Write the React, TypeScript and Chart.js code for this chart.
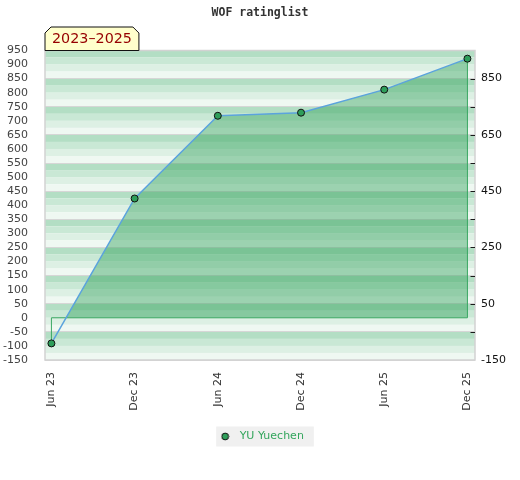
import React, { useEffect, useRef } from 'react';
import Chart from 'chart.js/auto';

const categories = ['Jun 23', 'Dec 23', 'Jun 24', 'Dec 24', 'Jun 25', 'Dec 25'];
const ratings = [-91, 424, 718, 729, 811, 921];
const seriesName = 'YU Yuechen';
const chartTitle = 'WOF ratinglist';
const periodLabel = '2023–2025';
const yMin = -150;
const yMax = 950;
const leftStep = 50;
const rightTickValues = [-150, -50, 50, 150, 250, 350, 450, 550, 650, 750, 850, 950];
const rightLabelValues = [-150, 50, 250, 450, 650, 850];
const stripeColors = ['#b3dec4', '#c9e8d5', '#ddf0e4', '#eff8f2'];
const stripeSize = 25;

const FONT = 'DejaVu Sans';

function makeMarker(): HTMLCanvasElement {
  const c = document.createElement('canvas');
  c.width = 9;
  c.height = 9;
  const g = c.getContext('2d');
  if (g) {
    g.beginPath();
    g.arc(4.5, 4.5, 3.4, 0, Math.PI * 2);
    g.fillStyle = '#2e9e5a';
    g.fill();
    g.lineWidth = 1;
    g.strokeStyle = '#111';
    g.stroke();
  }
  return c;
}

const decorPlugin = {
  id: 'decor',
  beforeDraw(chart: any) {
    const { ctx, chartArea: a, scales } = chart;
    const y = scales.y;
    ctx.save();
    let i = 0;
    for (let v = yMax; v > yMin; v -= stripeSize, i++) {
      const top = y.getPixelForValue(v);
      const bot = y.getPixelForValue(v - stripeSize);
      ctx.fillStyle = stripeColors[i % stripeColors.length];
      ctx.fillRect(a.left, top, a.right - a.left, bot - top);
    }
    const lg = chart.legend;
    if (lg && lg.legendHitBoxes && lg.legendHitBoxes.length) {
      const hb = lg.legendHitBoxes[0];
      ctx.fillStyle = '#f0f0f0';
      ctx.fillRect(hb.left, hb.top + hb.height / 2 - 10, hb.width + 10, 20);
    }
    ctx.restore();
  },
  beforeDatasetsDraw(chart: any) {
    const { ctx, chartArea: a, scales } = chart;
    ctx.save();
    ctx.strokeStyle = '#d2d2d2';
    ctx.lineWidth = 1.5;
    ctx.strokeRect(a.left, a.top, a.right - a.left, a.bottom - a.top);
    ctx.strokeStyle = '#1a1a1a';
    ctx.lineWidth = 1;
    const y2 = scales.y2;
    rightTickValues.forEach((v) => {
      const py = Math.round(y2.getPixelForValue(v)) + 0.5;
      if (v === yMin || v === yMax) return;
      ctx.beginPath();
      ctx.moveTo(a.right - 4.5, py);
      ctx.lineTo(a.right, py);
      ctx.stroke();
    });
    ctx.restore();
  },
  afterDraw(chart: any) {
    const { ctx, chartArea: a } = chart;
    ctx.save();
    ctx.font = `14.3px "${FONT}"`;
    const tw = ctx.measureText(periodLabel).width;
    const x0 = a.left;
    const x1 = x0 + tw + 14;
    const yb = a.top;
    const yt = yb - 23.5;
    const c = 6;
    ctx.beginPath();
    ctx.moveTo(x0, yb);
    ctx.lineTo(x0, yt + c);
    ctx.lineTo(x0 + c, yt);
    ctx.lineTo(x1 - c, yt);
    ctx.lineTo(x1, yt + c);
    ctx.lineTo(x1, yb);
    ctx.closePath();
    ctx.fillStyle = '#ffffcc';
    ctx.fill();
    ctx.strokeStyle = '#111';
    ctx.lineWidth = 1;
    ctx.stroke();
    ctx.fillStyle = '#960000';
    ctx.textBaseline = 'middle';
    ctx.textAlign = 'left';
    ctx.fillText(periodLabel, x0 + 7, yt + 12.5);
    ctx.restore();
  },
};

export default function App() {
  const ref = useRef<HTMLCanvasElement | null>(null);

  useEffect(() => {
    if (!ref.current) return;
    const last = ratings.length - 1;
    const tickFont = { family: FONT, size: 11 };
    const marker = makeMarker();
    const chart = new Chart(ref.current, {
      type: 'line',
      data: {
        datasets: [
          {
            label: seriesName,
            data: ratings.map((v, i) => ({ x: i, y: v })),
            borderColor: '#5ba3dd',
            borderWidth: 1.5,
            backgroundColor: 'rgba(46,160,87,0.43)',
            fill: { target: 'origin', above: 'rgba(46,160,87,0.43)', below: 'rgba(0,0,0,0)' },
            pointRadius: 3.5,
            pointBackgroundColor: '#2e9e5a',
            pointBorderColor: '#111',
            pointBorderWidth: 1,
            tension: 0,
            order: 1,
          },
          {
            label: 'outline',
            data: [
              { x: 0, y: ratings[0] },
              { x: 0, y: 0 },
              { x: last, y: 0 },
              { x: last, y: ratings[last] },
            ],
            borderColor: '#3aa862',
            borderWidth: 1,
            pointRadius: 0,
            fill: false,
            tension: 0,
            order: 2,
          },
        ],
      } as any,
      options: {
        responsive: false,
        animation: false,
        layout: { padding: { left: 0, right: 0, top: 0, bottom: 28 } },
        plugins: {
          title: {
            display: true,
            text: chartTitle,
            color: '#333',
            font: { family: 'DejaVu Sans Mono', size: 11.5, weight: 'bold', lineHeight: 1.2 },
            padding: { top: 6, bottom: 30.7 },
          },
          legend: {
            position: 'bottom',
            labels: {
              usePointStyle: true,
              pointStyle: marker,
              pointStyleWidth: 18,
              boxHeight: 6,
              padding: 10,
              color: '#33a55c',
              font: { family: FONT, size: 11 },
              filter: (item: any) => item.datasetIndex === 0,
              generateLabels: (ch: any) =>
                Chart.defaults.plugins.legend.labels.generateLabels(ch).map((it: any) => ({
                  ...it,
                  pointStyle: marker,
                  fillStyle: '#2e9e5a',
                  strokeStyle: '#111',
                  lineWidth: 1,
                })),
            },
          },
          tooltip: { enabled: false },
        },
        scales: {
          x: {
            type: 'linear',
            min: -0.077,
            max: 5.091,
            grid: { display: false },
            border: { display: false },
            afterBuildTicks: (s: any) => {
              s.ticks = categories.map((_, i) => ({ value: i }));
            },
            ticks: {
              autoSkip: false,
              maxRotation: 90,
              minRotation: 90,
              padding: 4,
              color: '#333',
              font: tickFont,
              callback: (v: any) => categories[v] ?? '',
            },
            afterFit: (s: any) => {
              s.height = 61;
            },
          },
          y: {
            position: 'left',
            min: yMin,
            max: yMax,
            grid: { display: false },
            border: { display: false },
            ticks: { stepSize: leftStep, autoSkip: false, padding: 9, color: '#444', font: tickFont },
            afterFit: (s: any) => {
              s.width = 45;
            },
          },
          y2: {
            position: 'right',
            min: yMin,
            max: yMax,
            grid: { color: '#d6d6d6', drawTicks: false },
            border: { display: false },
            afterBuildTicks: (s: any) => {
              s.ticks = rightTickValues.map((v) => ({ value: v }));
            },
            ticks: {
              padding: 6,
              color: '#111',
              font: tickFont,
              autoSkip: false,
              callback: (v: any) => (rightLabelValues.includes(v) ? String(v) : ''),
            },
            afterFit: (s: any) => {
              s.width = 45;
            },
          },
        },
      } as any,
      plugins: [decorPlugin],
    });
    return () => chart.destroy();
  }, []);

  return (
    <div style={{ position: 'fixed', left: 0, top: 0, width: 520, height: 480, background: '#fff' }}>
      <canvas ref={ref} width={520} height={480} style={{ display: 'block' }} />
    </div>
  );
}
